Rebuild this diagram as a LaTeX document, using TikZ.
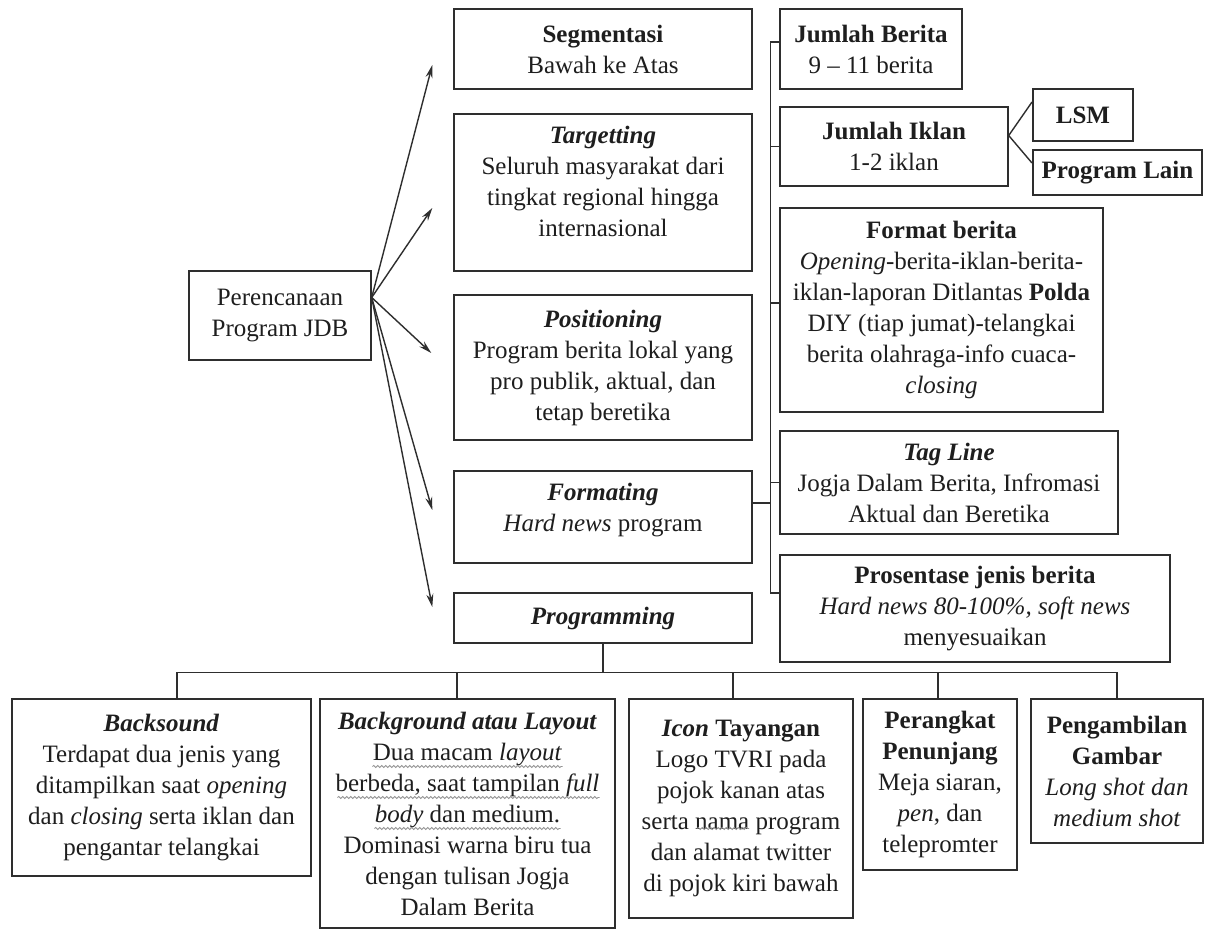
\documentclass[tikz,border=0pt]{standalone}
\usepackage{fontspec}
\setmainfont{Liberation Serif}
\usetikzlibrary{arrows.meta,calc,decorations.pathmorphing}
\definecolor{ink}{HTML}{1E1E1E}
\definecolor{rule}{HTML}{2E2E2E}

\begin{document}
\begin{tikzpicture}[x=1pt,y=-1pt,
  every node/.style={font=\fontsize{25}{31}\selectfont, text=ink},
  box/.style={draw=rule, line width=1.4pt, align=center, inner sep=0pt, rectangle},
  heavy/.style={box, line width=2pt},
  heavier/.style={box, line width=2.6pt},
  link/.style={draw=rule, line width=1.4pt},
  arr/.style={link, -{Stealth[length=13pt,width=7pt]}},
  squig/.style={draw=gray!85, line width=0.8pt,
    decorate, decoration={snake, segment length=4pt, amplitude=1.1pt}}
]
% page
\fill[white] (0,0) rectangle (1205,930);
\useasboundingbox (0,0) rectangle (1205,930);

% root
\node[box, minimum width=182, minimum height=89] (per) at (280,315.5) {Perencanaan\\Program JDB};

% middle column
\node[box, minimum width=298, minimum height=80] (seg) at (603,49)
  {\textbf{Segmentasi}\\Bawah ke Atas};
\node[box, minimum width=298, minimum height=157] (tar) at (603,192.5)
  {\textbf{\textit{Targetting}}\\Seluruh masyarakat dari\\tingkat regional hingga\\internasional\\[-9pt]};
\node[box, minimum width=298, minimum height=145] (pos) at (603,367.5)
  {\textbf{\textit{Positioning}}\\Program berita lokal yang\\pro publik, aktual, dan\\tetap beretika};
\node[box, minimum width=298, minimum height=92] (fmt) at (603,517)
  {\textbf{\textit{Formating}}\\\textit{Hard news} program\\[-11pt]};
\node[box, minimum width=298, minimum height=50] (prg) at (603,618)
  {\textbf{\textit{Programming}}};

% right column
\node[box, minimum width=182, minimum height=80] (jb) at (871,49)
  {\textbf{Jumlah Berita}\\9 – 11 berita};
\node[box, minimum width=228, minimum height=79] (ji) at (894,146.5)
  {\textbf{Jumlah Iklan}\\1-2 iklan};
\node[heavy, minimum width=100, minimum height=52] (lsm) at (1083,115) {\textbf{LSM}};
\node[heavy, minimum width=169, minimum height=45] (pl) at (1117.5,172.5) {\textbf{Program Lain}};
\node[box, line width=1.7pt, minimum width=323, minimum height=204] (fb) at (941.5,310)
  {\textbf{Format berita}\\\textit{Opening}-berita-iklan-berita-\\iklan-laporan Ditlantas \textbf{Polda}\\DIY (tiap jumat)-telangkai\\berita olahraga-info cuaca-\\\textit{closing}};
\node[box, line width=1.7pt, minimum width=338, minimum height=103] (tl) at (949,482.5)
  {\textbf{\textit{Tag Line}}\\Jogja Dalam Berita, Infromasi\\Aktual dan Beretika};
\node[box, line width=1.7pt, minimum width=390, minimum height=107] (pj) at (975,608.5)
  {\textbf{Prosentase jenis berita}\\\textit{Hard news 80-100\%, soft news}\\menyesuaikan};

% bottom row
\node[box, minimum width=299, minimum height=177] (bs) at (161.5,787.5)
  {\textbf{\textit{Backsound}}\\Terdapat dua jenis yang\\ditampilkan saat \textit{opening}\\dan \textit{closing} serta iklan dan\\pengantar telangkai};
\node[box, minimum width=295, minimum height=229] (bg) at (467.5,813.5)
  {\textbf{\textit{Background atau Layout}}\\Dua macam \textit{layout}\\berbeda, saat tampilan \textit{full}\\\textit{body} dan medium.\\Dominasi warna biru tua\\dengan tulisan Jogja\\Dalam Berita};
\node[box, minimum width=224, minimum height=219] (ic) at (741,808.5)
  {\textbf{\textit{Icon} Tayangan}\\Logo TVRI pada\\pojok kanan atas\\serta nama program\\dan alamat twitter\\di pojok kiri bawah};
\node[box, minimum width=154, minimum height=171] (pp) at (940,784.5)
  {\textbf{Perangkat}\\\textbf{Penunjang}\\Meja siaran,\\\textit{pen}, dan\\telepromter};
\node[heavier, minimum width=172, minimum height=144] (pg) at (1117,771)
  {\textbf{Pengambilan}\\\textbf{Gambar}\\\textit{Long shot dan}\\\textit{medium shot}};

% grey wavy proofing marks under some words
\draw[squig] ([xshift=-95pt,yshift=47pt]bg.center) -- ++(190,0);
\draw[squig] ([xshift=-130pt,yshift=16pt]bg.center) -- ++(262,0);
\draw[squig] ([xshift=-93pt,yshift=-15pt]bg.center) -- ++(186,0);
\draw[squig] ([xshift=-44pt,yshift=-20pt]ic.center) -- ++(52,0);

% arrows from the root
\coordinate (fan) at ([yshift=18pt]per.east);
\coordinate (tipSeg) at ([xshift=-21pt,yshift=-16pt]seg.west);
\coordinate (tipTar) at ([xshift=-21pt,yshift=-15.5pt]tar.west);
\coordinate (tipPos) at ([xshift=-22pt,yshift=14.5pt]pos.west);
\coordinate (tipFmt) at ([xshift=-21pt,yshift=7pt]fmt.west);
\coordinate (tipPrg) at ([xshift=-21pt,yshift=11pt]prg.west);
\foreach \t in {tipSeg,tipTar,tipPos,tipFmt,tipPrg}
  \draw[arr] (fan) -- (\t);

% spine joining the right column
\coordinate (spTop) at ([xshift=-9pt,yshift=7pt]jb.west);
\coordinate (pjIn) at ([yshift=15.5pt]pj.west);
\coordinate (fbIn) at ([yshift=7pt]fb.west);
\coordinate (fmtOut) at ([yshift=14pt]fmt.east);
\draw[link] (spTop -| jb.west) -- (spTop) -- (pjIn -| spTop) -- (pjIn);
\draw[link] (ji.west) -- (ji.west -| spTop);
\draw[link] (fbIn) -- (fbIn -| spTop);
\draw[link] (tl.west) -- (tl.west -| spTop);
\draw[link] (fmtOut) -- (fmtOut -| spTop);

% advertisement split
\coordinate (jiOut) at ([yshift=11pt]ji.east);
\draw[link] (jiOut) -- ([yshift=13pt]lsm.west);
\draw[link] (jiOut) -- ([yshift=9.5pt]pl.west);

% bus under Programming
\coordinate (bus) at ([yshift=-29pt]prg.south);
\coordinate (bsIn) at ([xshift=15.5pt]bs.north);
\coordinate (bgIn) at ([xshift=-10.5pt]bg.north);
\coordinate (icIn) at ([xshift=-8pt]ic.north);
\coordinate (ppIn) at ([xshift=-2pt]pp.north);
\coordinate (pgIn) at (pg.north);
\draw[link] (prg.south) -- (bus);
\draw[link] (bsIn) -- (bus -| bsIn) -- (bus -| pgIn) -- (pgIn);
\foreach \d in {bgIn,icIn,ppIn}
  \draw[link] (bus -| \d) -- (\d);
\end{tikzpicture}
\end{document}
